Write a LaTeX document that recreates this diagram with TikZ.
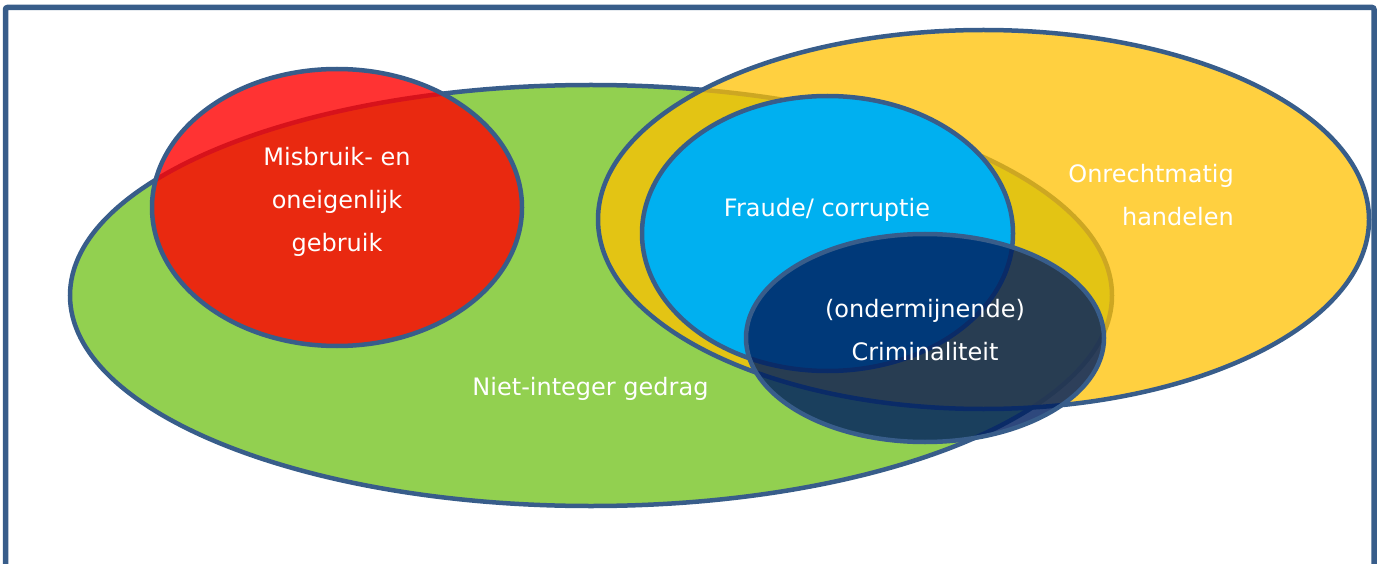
\documentclass[tikz,border=0pt]{standalone}
\usepackage{fontspec}
\setmainfont{DejaVu Sans}
\definecolor{rand}{HTML}{385D8A}
\definecolor{groen}{HTML}{92D050}
\definecolor{rood}{HTML}{FF0000}
\definecolor{oranje}{HTML}{FFC000}
\definecolor{lichtblauw}{HTML}{00B0F0}
\definecolor{donkerblauw}{HTML}{002060}
\begin{document}
\begin{tikzpicture}[x=1pt,y=-1pt,
    kader/.style={draw=rand,line width=5.5pt,rounded corners=2pt},
    verz/.style={draw=rand,line width=4.5pt},
    tekst/.style={text=white,inner sep=0pt,font=\fontsize{24}{43}\selectfont},
  ]
  \useasboundingbox (0,0) rectangle (1384,564);
  \draw[kader] (5.5,564) |- (1374,7.5) -- (1374,564);

  \path[verz,fill=groen] (591,295.5) ellipse [x radius=521pt,y radius=210.5pt];
  \path[verz,fill=rood,fill opacity=.8] (337,207.5) ellipse [x radius=185pt,y radius=138.5pt];
  \path[verz,fill=oranje,fill opacity=.75] (983.5,219.5) ellipse [x radius=385.5pt,y radius=189.5pt];
  \path[verz,fill=lichtblauw] (827.5,233.5) ellipse [x radius=185.5pt,y radius=137.5pt];
  \path[verz,fill=donkerblauw,fill opacity=.82] (925,338) ellipse [x radius=179pt,y radius=104pt];

  \node[tekst,align=center] (misbruik) at (337,202) {Misbruik- en\\oneigenlijk\\gebruik};
  \node[tekst,anchor=base] (niet) at (590.5,395) {Niet-integer gedrag};
  \node[tekst,anchor=base] (fraude) at (827,217) {Fraude/ corruptie};
  \node[tekst,align=right,anchor=east] (onrecht) at (1234,195) {Onrechtmatig\\handelen};
  \node[tekst,align=center] (crimi) at (925,330.5) {(ondermijnende)\\Criminaliteit};
\end{tikzpicture}
\end{document}
